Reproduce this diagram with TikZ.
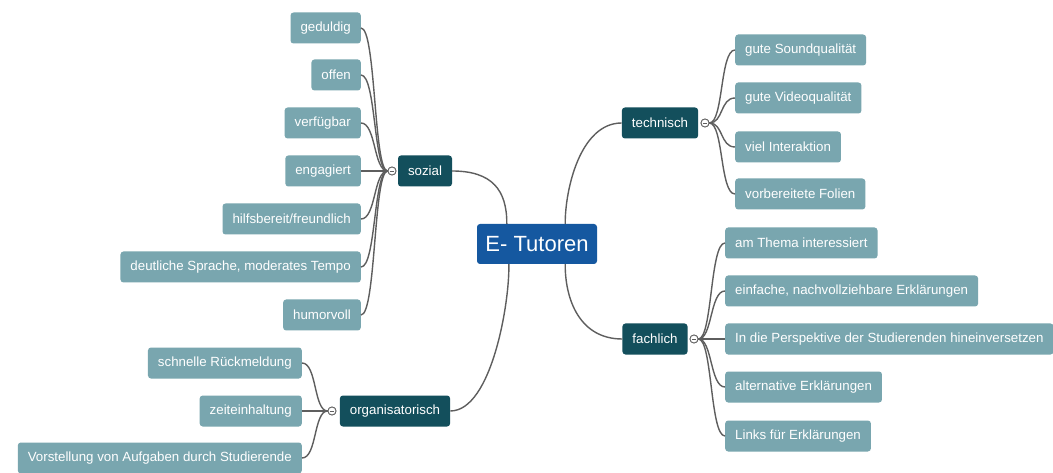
\documentclass[tikz,border=0pt]{standalone}
\usepackage{fontspec}
\setmainfont{Liberation Sans}
\begin{document}
\begin{tikzpicture}[x=1pt,y=-1pt,
  base/.style={rounded corners=3pt, text=white, minimum height=31pt, inner xsep=10pt, inner ysep=0pt, font=\fontsize{13.3}{15}\selectfont},
  leaf/.style={base, fill=leafc},
  branch/.style={base, fill=darkc},
  center/.style={rounded corners=3pt, fill=centc, text=white, minimum width=120pt, minimum height=40pt, font=\fontsize{22}{26}\selectfont},
  knob/.style={circle, draw=edgec, fill=white, line width=0.8pt, minimum size=8pt, inner sep=0pt,
    path picture={\draw[edgec, line width=0.8pt] ([xshift=-2.2pt]path picture bounding box.center) -- ([xshift=2.2pt]path picture bounding box.center);}},
  link/.style={draw=edgec, line width=1.4pt}
]
\definecolor{leafc}{HTML}{79A6AF}
\definecolor{darkc}{HTML}{134F5C}
\definecolor{centc}{HTML}{1558A0}
\definecolor{edgec}{HTML}{5E5E5E}
\useasboundingbox[fill=white] (0,0) rectangle (1053,473);

% center
\node[center] (ct) at (537,244) {E- Tutoren};

% branches
\node[branch] (so) at (425,171) {sozial};
\node[branch] (te) at (660,123) {technisch};
\node[branch] (fa) at (655,339) {fachlich};
\node[branch] (or) at (395,411) {organisatorisch};

% main links
\draw[link] (so.east) .. controls (492,171) and (507,190) .. ([xshift=30pt]ct.north west);
\draw[link] (te.west) .. controls (580,123) and (565,190) .. ([xshift=-32pt]ct.north east);
\draw[link] (fa.west) .. controls (580,339) and (565,300) .. ([xshift=-32pt]ct.south east);
\draw[link] (or.east) .. controls (492,411) and (510,300) .. ([xshift=32pt]ct.south west);

% knobs
\node[knob] (kso) at (392,171) {};
\node[knob] (kte) at (705,123) {};
\node[knob] (kfa) at (694,339) {};
\node[knob] (kor) at (332,411) {};

% sozial leaves
\node[leaf, anchor=east] (s1) at (361,28) {geduldig};
\node[leaf, anchor=east] (s2) at (361,75) {offen};
\node[leaf, anchor=east] (s3) at (361,123) {verfügbar};
\node[leaf, anchor=east] (s4) at (361,171) {engagiert};
\node[leaf, anchor=east] (s5) at (361,219) {hilfsbereit/freundlich};
\node[leaf, anchor=east] (s6) at (361,267) {deutliche Sprache, moderates Tempo};
\node[leaf, anchor=east] (s7) at (361,315) {humorvoll};
\foreach \n in {s1,s2,s3,s4,s5,s6,s7}
  \draw[link] (kso.west) .. controls +(-14,0) and +(15,0) .. (\n.east);

% organisatorisch leaves
\node[leaf, anchor=east] (o1) at (302,363) {schnelle Rückmeldung};
\node[leaf, anchor=east] (o2) at (302,411) {zeiteinhaltung};
\node[leaf, anchor=east] (o3) at (302,458) {Vorstellung von Aufgaben durch Studierende};
\foreach \n in {o1,o2,o3}
  \draw[link] (kor.west) .. controls +(-14,0) and +(15,0) .. (\n.east);

% technisch leaves
\node[leaf, anchor=west] (t1) at (735,50) {gute Soundqualität};
\node[leaf, anchor=west] (t2) at (735,98) {gute Videoqualität};
\node[leaf, anchor=west] (t3) at (735,147) {viel Interaktion};
\node[leaf, anchor=west] (t4) at (735,194) {vorbereitete Folien};
\foreach \n in {t1,t2,t3,t4}
  \draw[link] (kte.east) .. controls +(14,0) and +(-15,0) .. (\n.west);

% fachlich leaves
\node[leaf, anchor=west] (f1) at (725,243) {am Thema interessiert};
\node[leaf, anchor=west] (f2) at (725,291) {einfache, nachvollziehbare Erklärungen};
\node[leaf, anchor=west] (f3) at (725,339) {In die Perspektive der Studierenden hineinversetzen};
\node[leaf, anchor=west] (f4) at (725,387) {alternative Erklärungen};
\node[leaf, anchor=west] (f5) at (725,436) {Links für Erklärungen};
\foreach \n in {f1,f2,f3,f4,f5}
  \draw[link] (kfa.east) .. controls +(14,0) and +(-15,0) .. (\n.west);

% redraw knobs on top
\node[knob] at (kso) {};
\node[knob] at (kte) {};
\node[knob] at (kfa) {};
\node[knob] at (kor) {};
\end{tikzpicture}
\end{document}
